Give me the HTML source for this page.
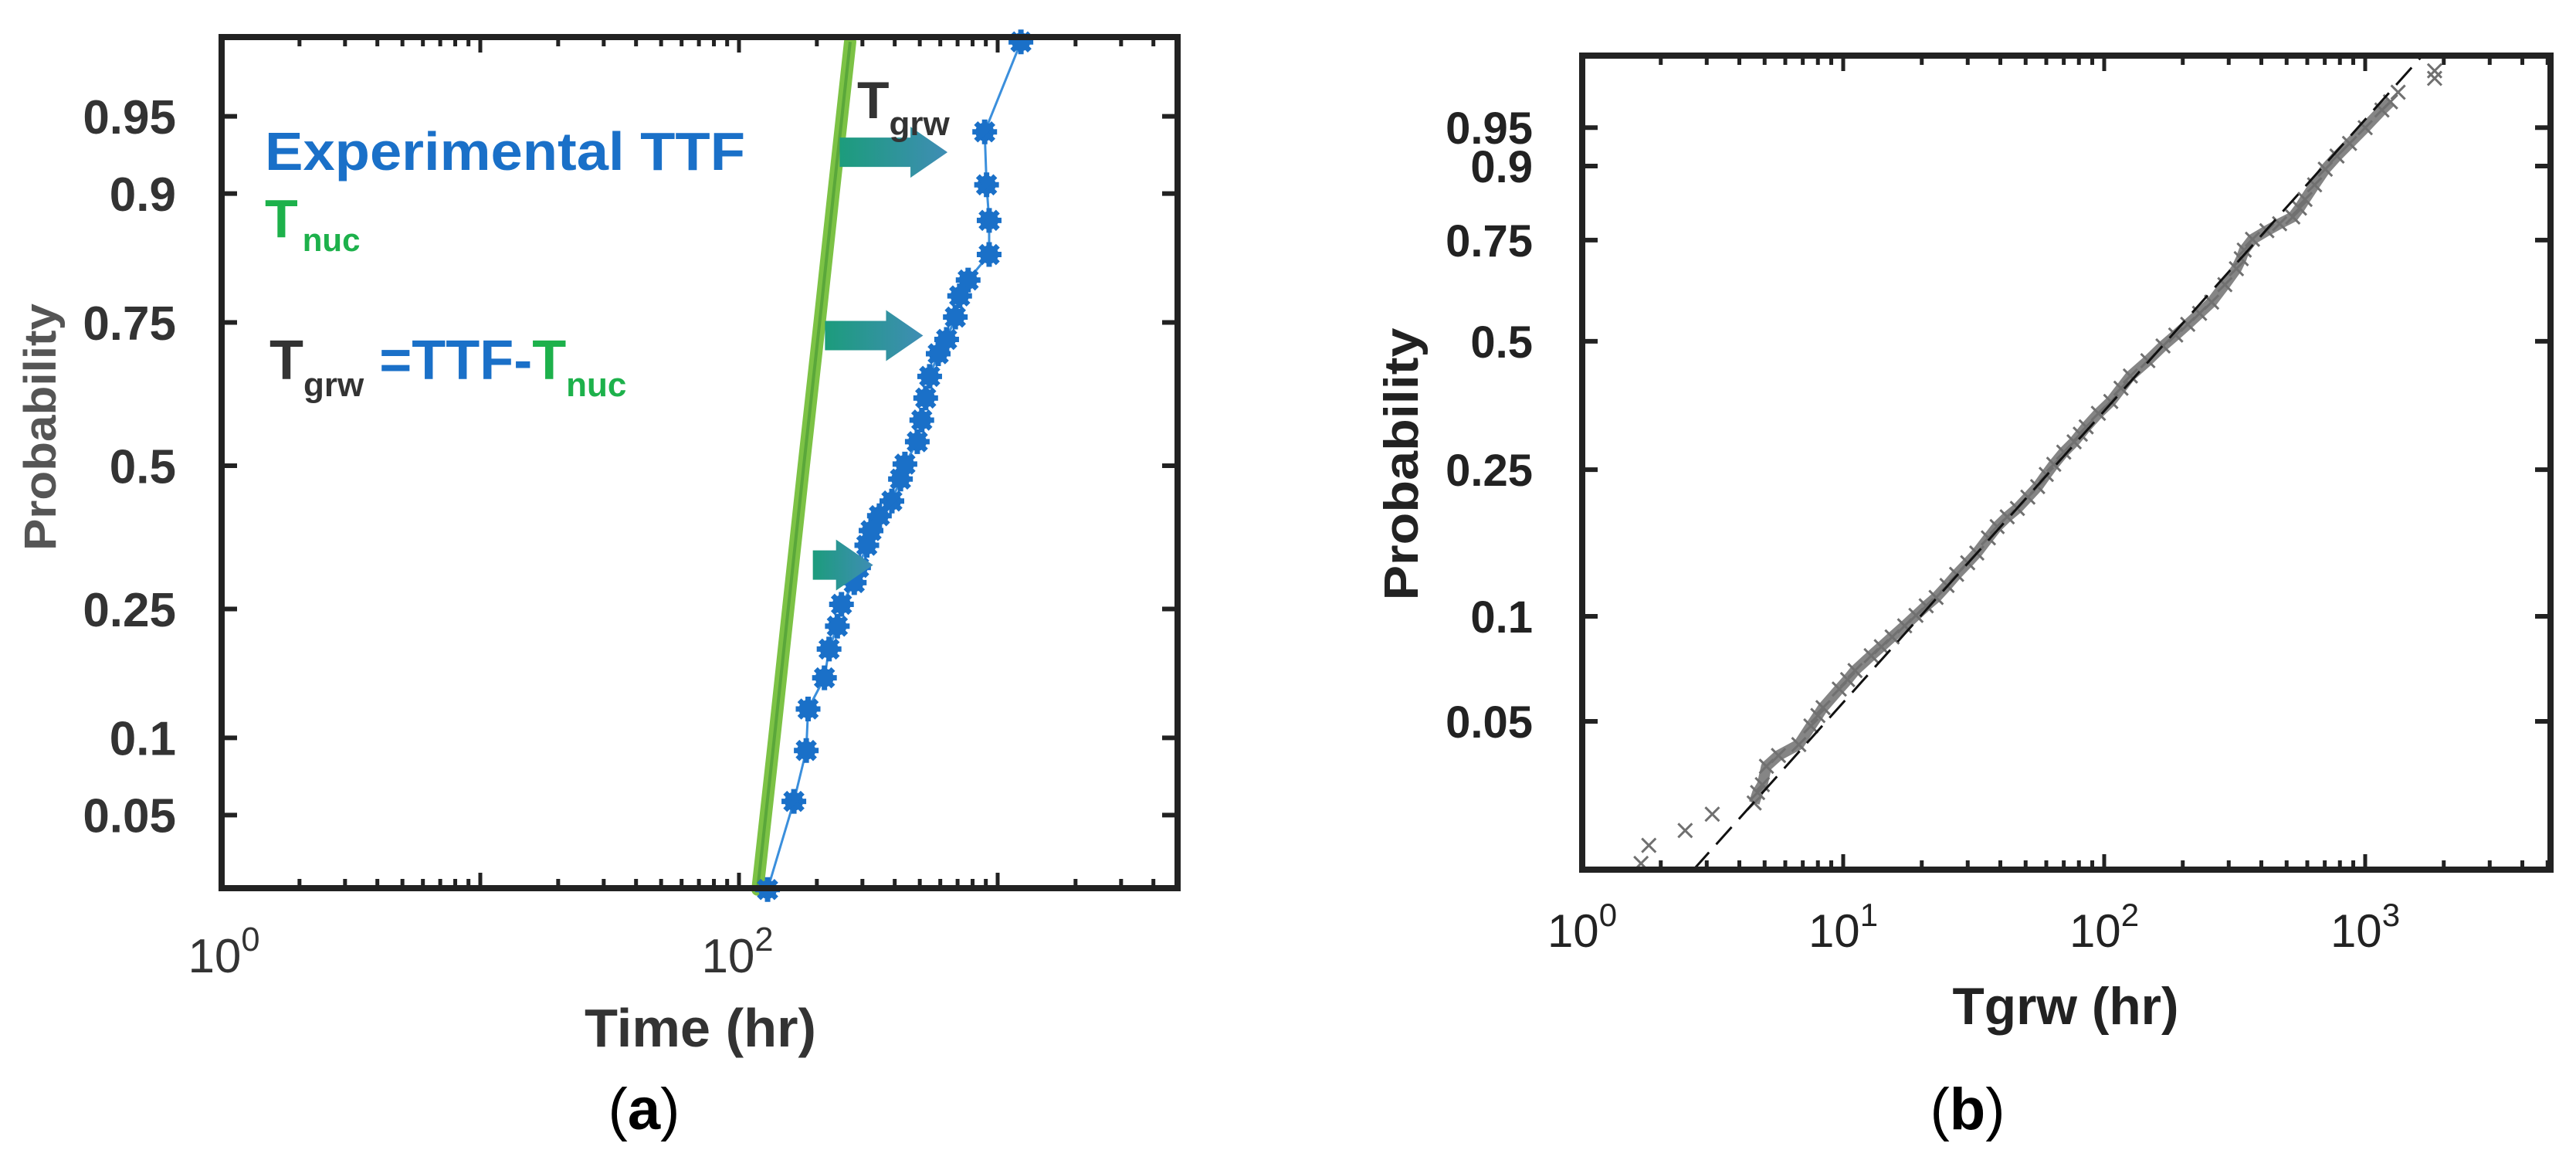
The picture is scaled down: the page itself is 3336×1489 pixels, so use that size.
<!DOCTYPE html>
<html><head><meta charset="utf-8"><style>
html,body{margin:0;padding:0;background:#fff;}
svg{display:block;}
text{font-family:"Liberation Sans",sans-serif;}
</style></head><body>
<svg id="fig" width="3336" height="1489" viewBox="0 0 3336 1489" xmlns="http://www.w3.org/2000/svg">
<defs>
<linearGradient id="arrowGrad" x1="0" y1="0" x2="1" y2="0">
<stop offset="0" stop-color="#1c9c7c"/><stop offset="1" stop-color="#3f8db5"/>
</linearGradient>
</defs>
<g id="panelA"></g>
<g id="panelB"></g>
</svg>
<script>
// ---------- Panel A data ----------
const probTicksA = [0.05, 0.1, 0.25, 0.5, 0.75, 0.9, 0.95];
const probTickLabelsA = ["0.05", "0.1", "0.25", "0.5", "0.75", "0.9", "0.95"];
const ttfTimes = [129,163,182,185,214,223,240,249,279,290,312,324,349,390,421,438,489,509,527,546,589,635,686,713,769,927,927,906,891,1230];
const ttfProbs = [0.023,0.057,0.090,0.126,0.159,0.194,0.225,0.257,0.291,0.316,0.354,0.380,0.407,0.434,0.475,0.503,0.545,0.585,0.625,0.663,0.701,0.724,0.758,0.788,0.809,0.840,0.876,0.907,0.942,0.977];
const nucTimes = [118, 137, 155, 178, 205, 232, 269];
const nucProbs = [0.023, 0.1, 0.25, 0.5, 0.75, 0.9, 0.977];
const arrowProbs = [0.93, 0.73, 0.32];
const arrowStarts = [245, 215, 193];
const arrowEnds = [640, 515, 330];

// ---------- Panel B data ----------
const probTicksB = [0.05, 0.1, 0.25, 0.5, 0.75, 0.9, 0.95];
const probTickLabelsB = ["0.05", "0.1", "0.25", "0.5", "0.75", "0.9", "0.95"];
const grwTimes = [1.68,1.80,2.48,3.15,4.56,4.70,4.90,5.08,5.65,6.76,7.52,8.0,8.37,9.66,10.4,11.1,12.8,14.0,15.4,17.2,19.0,20.8,22.7,25.0,27.2,30.0,32.5,36.0,38.9,42.5,46.5,51.0,55.6,60.0,64.1,70.0,76.7,81.0,85.3,95.0,106,116,126,147,168,188,209,232,258,290,321,335,344,370,420,470,528,560,588,640,703,780,871,1000,1159,1250,1337,1845,1845];
const grwProbs = [0.0192,0.0217,0.024,0.0268,0.0289,0.031,0.0327,0.037,0.0398,0.0428,0.0485,0.052,0.0548,0.062,0.066,0.0701,0.0773,0.082,0.0874,0.094,0.1006,0.107,0.113,0.122,0.131,0.141,0.150,0.165,0.177,0.188,0.198,0.212,0.226,0.243,0.258,0.277,0.294,0.307,0.320,0.345,0.368,0.395,0.421,0.455,0.489,0.515,0.541,0.568,0.596,0.640,0.680,0.705,0.726,0.752,0.772,0.788,0.803,0.822,0.840,0.868,0.895,0.915,0.932,0.950,0.966,0.972,0.978,0.988,0.985];
const fitTimes = [2.67, 1656];
const fitProbs = [0.0184, 0.9926];

const NS = "http://www.w3.org/2000/svg";
function mk(parent, tag, attrs, txt){
  const e = document.createElementNS(NS, tag);
  for (const k in attrs) e.setAttribute(k, attrs[k]);
  if (txt !== undefined) e.textContent = txt;
  parent.appendChild(e);
  return e;
}
function normInv(p){
  const a=[-39.69683028665376,220.9460984245205,-275.9285104469687,138.3577518672690,-30.66479806614716,2.506628277459239];
  const b=[-54.47609879822406,161.5858368580409,-155.6989798598866,66.80131188771972,-13.28068155288572];
  const c=[-0.007784894002430293,-0.3223964580411365,-2.400758277161838,-2.549732539343734,4.374664141464968,2.938163982698783];
  const d=[0.007784695709041462,0.3224671290700398,2.445134137142996,3.754408661907416];
  const pl=0.02425;
  let q,r;
  if(p<pl){q=Math.sqrt(-2*Math.log(p));return (((((c[0]*q+c[1])*q+c[2])*q+c[3])*q+c[4])*q+c[5])/((((d[0]*q+d[1])*q+d[2])*q+d[3])*q+1);}
  if(p>1-pl){q=Math.sqrt(-2*Math.log(1-p));return -(((((c[0]*q+c[1])*q+c[2])*q+c[3])*q+c[4])*q+c[5])/((((d[0]*q+d[1])*q+d[2])*q+d[3])*q+1);}
  q=p-0.5;r=q*q;
  return (((((a[0]*r+a[1])*r+a[2])*r+a[3])*r+a[4])*r+a[5])*q/(((((b[0]*r+b[1])*r+b[2])*r+b[3])*r+b[4])*r+1);
}

const A = {L:287, R:1525, T:48, B:1150};
const xA = t => A.L + Math.log10(t) * 335;
const yA = p => 603 - normInv(p) * 275;
const gA = document.getElementById('panelA');

function drawBox(g, box, name){
  const r = mk(g,'rect',{x:box.L,y:box.T,width:box.R-box.L,height:box.B-box.T,fill:'none',stroke:'#222','stroke-width':8});
  
  
}
function drawXTicks(g, box, xf, maxLog, name){
  const tg = mk(g,'g',{});
  
  
  for (let dec=0; dec<=Math.ceil(maxLog); dec++){
    for (let m=1; m<=9; m++){
      const v = m*Math.pow(10,dec);
      if (Math.log10(v) > maxLog) continue;
      const x = xf(v);
      if (x < box.L+2 || x > box.R-2) continue;
      const len = m===1 ? 20 : 12;
      mk(tg,'line',{x1:x,y1:box.B,x2:x,y2:box.B-len,stroke:'#222','stroke-width':5});
      mk(tg,'line',{x1:x,y1:box.T,x2:x,y2:box.T+len,stroke:'#222','stroke-width':5});
    }
  }
}
function drawYTicks(g, box, yf, probs, labels, labelX, fs, color, name){
  const tg = mk(g,'g',{});
  
  
  probs.forEach((p,i)=>{
    const y = yf(p);
    mk(tg,'line',{x1:box.L,y1:y,x2:box.L+20,y2:y,stroke:'#222','stroke-width':6});
    mk(tg,'line',{x1:box.R,y1:y,x2:box.R-20,y2:y,stroke:'#222','stroke-width':6});
    const t = mk(tg,'text',{x:labelX,y:y+fs*0.36,'text-anchor':'end','font-size':fs,'font-weight':'bold',fill:color},labels[i]);
    
    
  });
}
function xLabel(g, x, y, exp, fs, color){
  const t = mk(g,'text',{x:x,y:y,'text-anchor':'middle','font-size':fs,fill:color});
  
  
  mk(t,'tspan',{},'10');
  mk(t,'tspan',{dy:-fs*0.45,'font-size':fs*0.7},exp);
}

const nucLine = mk(gA,'polyline',{points:nucTimes.map((t,i)=>xA(t)+','+yA(nucProbs[i])).join(' '),fill:'none',stroke:'#7cc245','stroke-width':16,'stroke-linecap':'round'});


const nucCore = mk(gA,'polyline',{points:nucTimes.map((t,i)=>xA(t)+','+yA(nucProbs[i])).join(' '),fill:'none',stroke:'#5aa73a','stroke-width':4});



const ttfLine = mk(gA,'polyline',{points:ttfTimes.map((t,i)=>xA(t)+','+yA(ttfProbs[i])).join(' '),fill:'none',stroke:'#3b8fdc','stroke-width':3});


ttfTimes.forEach((t,i)=>{
  const cx = xA(t), cy = yA(ttfProbs[i]);
  const m = mk(gA,'g',{});
  
  
  mk(m,'circle',{cx:cx,cy:cy,r:12,fill:'#1a70c8'});
  for (let k=0;k<4;k++){
    const a = k*Math.PI/4;
    mk(m,'line',{x1:cx-16*Math.cos(a),y1:cy-16*Math.sin(a),x2:cx+16*Math.cos(a),y2:cy+16*Math.sin(a),stroke:'#1a70c8','stroke-width':7});
  }
});
arrowProbs.forEach((p,i)=>{
  const y = yA(p), x0 = xA(arrowStarts[i]), x1 = xA(arrowEnds[i]);
  const hw = 48, bh = 19, hh = 33;
  const ar = mk(gA,'polygon',{points:[[x0,y-bh],[x1-hw,y-bh],[x1-hw,y-hh],[x1,y],[x1-hw,y+hh],[x1-hw,y+bh],[x0,y+bh]].map(q=>q.join(',')).join(' '),fill:'url(#arrowGrad)'});
  
  
});

drawBox(gA, A, 'plot-frame-a');
drawXTicks(gA, A, xA, 3.7, 'x-ticks-a');
drawYTicks(gA, A, yA, probTicksA, probTickLabelsA, 228, 62, '#333', 'y-ticks-a');
xLabel(gA, 290, 1259, '0', 62, '#333');
xLabel(gA, 955, 1259, '2', 62, '#333');

const t1 = mk(gA,'text',{x:343,y:220,'font-size':70,'font-weight':'bold',fill:'#1a70c8',textLength:622,lengthAdjust:'spacingAndGlyphs'},'Experimental TTF');


const t2 = mk(gA,'text',{x:343,y:307,'font-size':70,'font-weight':'bold',fill:'#1db14b'});


mk(t2,'tspan',{},'T');
mk(t2,'tspan',{dx:6,dy:18,'font-size':42},'nuc');
const t3 = mk(gA,'text',{x:349,y:491,'font-size':72,'font-weight':'bold',fill:'#333'});


mk(t3,'tspan',{},'T');
mk(t3,'tspan',{dy:22,'font-size':44},'grw');
mk(t3,'tspan',{dx:20,dy:-22,fill:'#1a70c8'},'=TTF-');
mk(t3,'tspan',{fill:'#1db14b'},'T');
mk(t3,'tspan',{dy:22,'font-size':44,fill:'#1db14b'},'nuc');
const t4 = mk(gA,'text',{x:1110,y:153,'font-size':68,'font-weight':'bold',fill:'#333'});


mk(t4,'tspan',{},'T');
mk(t4,'tspan',{dy:22,'font-size':44},'grw');

const ya = mk(gA,'text',{x:0,y:0,'font-size':58,'font-weight':'bold',fill:'#555','text-anchor':'middle',transform:'translate(72,553) rotate(-90)',textLength:320,lengthAdjust:'spacingAndGlyphs'},'Probability');


const xa = mk(gA,'text',{x:907,y:1355,'font-size':70,'font-weight':'bold',fill:'#333','text-anchor':'middle',textLength:300,lengthAdjust:'spacingAndGlyphs'},'Time (hr)');


const ca = mk(gA,'text',{x:834,y:1462,'font-size':76,fill:'#000','text-anchor':'middle','font-family':'Liberation Serif, serif'});


mk(ca,'tspan',{},'(');
mk(ca,'tspan',{'font-weight':'bold'},'a');
mk(ca,'tspan',{},')');

const Bx = {L:2049, R:3303, T:72, B:1126};
const xB = t => Bx.L + Math.log10(t) * 338;
const yB = p => 442 - (Math.log(-Math.log(1-p)) + 0.367) * 189;
const gB = document.getElementById('panelB');

const band = mk(gB,'polyline',{points:grwTimes.map((t,i)=>xB(t)+','+yB(grwProbs[i])).slice(4,66).join(' '),fill:'none',stroke:'#666','stroke-width':14,'stroke-linejoin':'round','opacity':0.8});


grwTimes.forEach((t,i)=>{
  const cx = xB(t), cy = yB(grwProbs[i]), s = 9;
  const m = mk(gB,'path',{d:`M${cx-s},${cy-s}L${cx+s},${cy+s}M${cx-s},${cy+s}L${cx+s},${cy-s}`,stroke:'#707070','stroke-width':3,fill:'none'});
  
  
});
const fit = mk(gB,'line',{x1:xB(fitTimes[0]),y1:yB(fitProbs[0]),x2:xB(fitTimes[1]),y2:yB(fitProbs[1]),stroke:'#111','stroke-width':3,'stroke-dasharray':'30 14'});



drawBox(gB, Bx, 'plot-frame-b');
drawXTicks(gB, Bx, xB, 3.71, 'x-ticks-b');
drawYTicks(gB, Bx, yB, probTicksB, probTickLabelsB, 1985, 58, '#222', 'y-ticks-b');
['0','1','2','3'].forEach((e,i)=>xLabel(gB, xB(Math.pow(10,i)), 1226, e, 60, '#222'));
const yb = mk(gB,'text',{x:0,y:0,'font-size':62,'font-weight':'bold',fill:'#222','text-anchor':'middle',transform:'translate(1836,601) rotate(-90)',textLength:353,lengthAdjust:'spacingAndGlyphs'},'Probability');


const xb = mk(gB,'text',{x:2675,y:1326,'font-size':68,'font-weight':'bold',fill:'#222','text-anchor':'middle',textLength:293,lengthAdjust:'spacingAndGlyphs'},'Tgrw (hr)');


const cb = mk(gB,'text',{x:2548,y:1462,'font-size':76,fill:'#000','text-anchor':'middle','font-family':'Liberation Serif, serif'});


mk(cb,'tspan',{},'(');
mk(cb,'tspan',{'font-weight':'bold'},'b');
mk(cb,'tspan',{},')');
</script>
</body></html>
